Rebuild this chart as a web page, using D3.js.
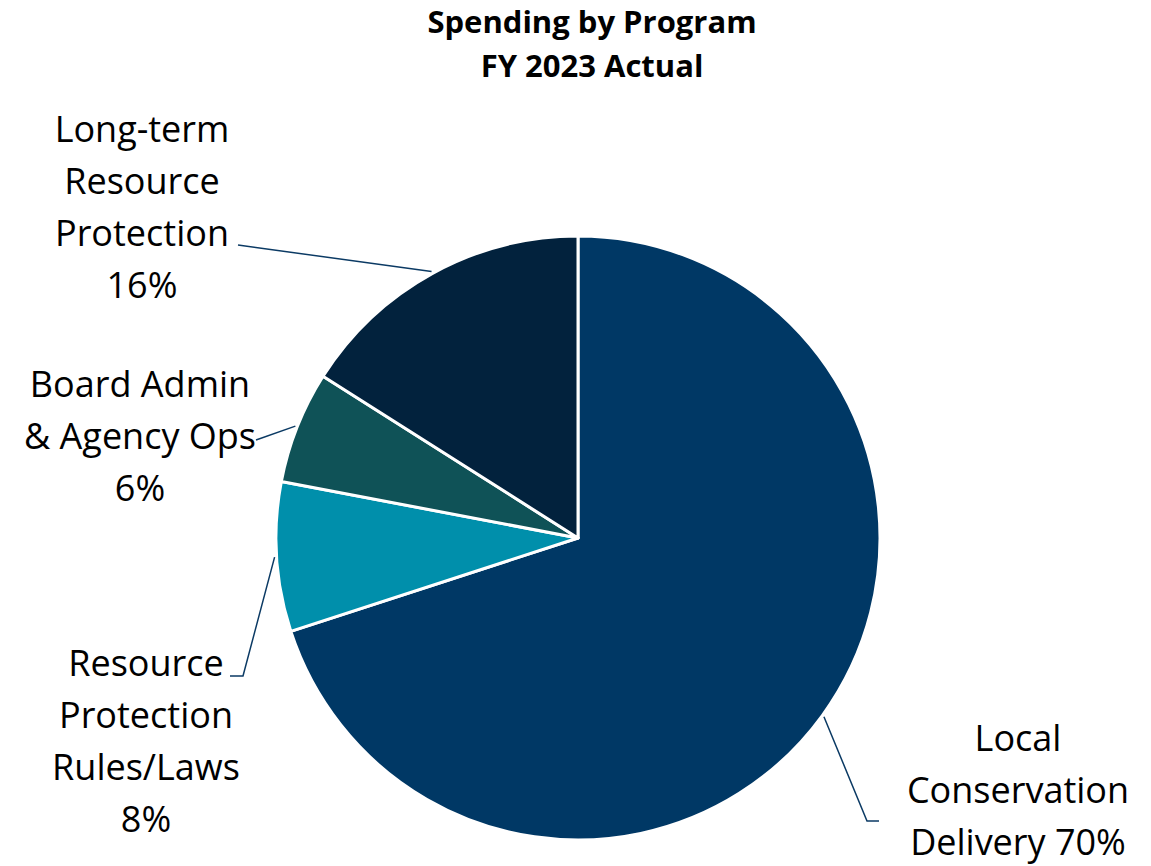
<!DOCTYPE html>
<html>
<head>
<meta charset="utf-8">
<script src="https://cdn.jsdelivr.net/npm/d3@7"></script>
<style>
  body { margin: 0; background: #fff; }
  text { font-family: "Open Sans", sans-serif; fill: #000; }
</style>
</head>
<body>
<div id="chart"></div>
<script>
// Données du graphique
const titleLines = ["Spending by Program", "FY 2023 Actual"];
const categories = ["Local Conservation Delivery", "Resource Protection Rules/Laws", "Board Admin & Agency Ops", "Long-term Resource Protection"];
const values = [70, 8, 6, 16];
const labelLines = [
  ["Local", "Conservation", "Delivery 70%"],
  ["Resource", "Protection", "Rules/Laws", "8%"],
  ["Board Admin", "& Agency Ops", "6%"],
  ["Long-term", "Resource", "Protection", "16%"]
];
const colors = ["#003865", "#008FAB", "#0F5257", "#02223D"];

// Mise en page
const width = 1151, height = 866;
const cx = 578, cy = 538, radius = 302;
const labelFont = 36;
const lineH = 52;
// position du label (centre x, ligne de base de la 1re ligne) et coude du trait
const labelLayout = [
  {x: 1018, y: 751, path: [[879, 821], [867, 821]]},
  {x: 146, y: 676, path: [[230, 676], [243, 676]]},
  {x: 140, y: 397, path: [[256, 440]]},
  {x: 142, y: 142, path: [[238, 245]]}
];

const svg = d3.select("#chart").append("svg")
  .attr("width", width)
  .attr("height", height);

// Titre
svg.append("g").selectAll("text")
  .data(titleLines)
  .join("text")
  .attr("x", 592)
  .attr("y", (d, i) => 33 + i * 44)
  .attr("text-anchor", "middle")
  .attr("font-size", 31)
  .attr("font-weight", "bold")
  .text(d => d);

const g = svg.append("g")
  .attr("transform", `translate(${cx},${cy})`);

const pie = d3.pie().sort(null).value(d => d);
const arc = d3.arc().innerRadius(0).outerRadius(radius);
const edge = d3.arc().innerRadius(radius + 2).outerRadius(radius + 2);
const dataReady = pie(values);

g.selectAll("path")
  .data(dataReady)
  .join("path")
  .attr("d", arc)
  .attr("fill", (d, i) => colors[i])
  .attr("stroke", "#fff")
  .attr("stroke-width", 3)
  .attr("stroke-linejoin", "round");

// Traits de rappel
const line = d3.line();
svg.append("g").selectAll("path")
  .data(dataReady)
  .join("path")
  .attr("fill", "none")
  .attr("stroke", "#0B3A64")
  .attr("stroke-width", 1.5)
  .attr("d", (d, i) => {
    const [ex, ey] = edge.centroid(d);
    return line([...labelLayout[i].path, [cx + ex, cy + ey]]);
  });

// Étiquettes
labelLines.forEach((lines, i) => {
  svg.append("g").selectAll("text")
    .data(lines)
    .join("text")
    .attr("x", labelLayout[i].x)
    .attr("y", (d, j) => labelLayout[i].y + j * lineH)
    .attr("text-anchor", "middle")
    .attr("font-size", labelFont)
    .text(d => d);
});
</script>
</body>
</html>
